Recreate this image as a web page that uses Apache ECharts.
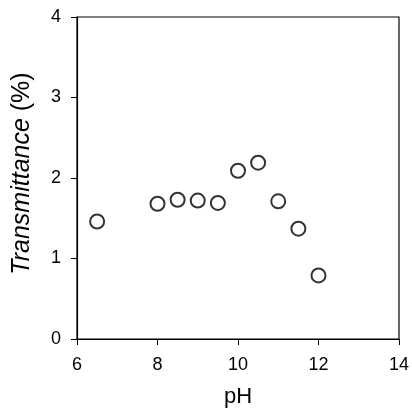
<!DOCTYPE html>
<html><head><meta charset="utf-8">
<script src="https://cdn.jsdelivr.net/npm/echarts@6/dist/echarts.min.js"></script>
<style>html,body{margin:0;padding:0;background:#fff}#c{width:412px;height:413px}</style>
</head><body><div id="c"></div>
<script>
const phValues = [6.5, 8, 8.5, 9, 9.5, 10, 10.5, 11, 11.5, 12];
const transmittance = [1.46, 1.68, 1.73, 1.72, 1.69, 2.09, 2.19, 1.71, 1.37, 0.79];
const xTicks = [6, 8, 10, 12, 14];
const yTicks = [0, 1, 2, 3, 4];

const chart = echarts.init(document.getElementById('c'), null, {renderer: 'canvas'});
const font = '"Liberation Sans", Arial, sans-serif';
chart.setOption({
  animation: false,
  backgroundColor: '#fff',
  grid: {left: 77, right: 12, top: 17, bottom: 72, show: true, borderColor: '#000', borderWidth: 1.2, backgroundColor: 'transparent'},
  xAxis: {
    type: 'value', min: xTicks[0], max: xTicks[xTicks.length-1], interval: 2,
    name: 'pH', nameLocation: 'middle', nameGap: 47,
    nameTextStyle: {fontFamily: font, fontSize: 22, color: '#000'},
    axisLine: {lineStyle: {color: '#000', width: 1.2}},
    axisTick: {inside: false, length: 6, lineStyle: {color: '#000'}},
    axisLabel: {fontFamily: font, fontSize: 18, color: '#000', margin: 17},
    splitLine: {show: false}
  },
  yAxis: {
    type: 'value', min: yTicks[0], max: yTicks[yTicks.length-1], interval: 1,
    name: '{i|Transmittance}{n| (%)}', nameLocation: 'middle', nameGap: 42, nameRotate: 90,
    nameTextStyle: {padding: [0, 0, 0, 9], rich: {i: {fontFamily: font, fontSize: 25, fontStyle: 'italic', color: '#000'}, n: {fontFamily: font, fontSize: 25, color: '#000'}}},
    axisLine: {lineStyle: {color: '#000', width: 1.2}},
    axisTick: {inside: false, length: 6, lineStyle: {color: '#000'}},
    axisLabel: {fontFamily: font, fontSize: 18, color: '#000', margin: 16},
    splitLine: {show: false}
  },
  series: [{
    type: 'scatter',
    data: phValues.map((x, i) => [x, transmittance[i]]),
    symbol: 'circle', symbolSize: 14,
    itemStyle: {color: '#fff', borderColor: '#000', borderWidth: 2}
  }]
});
</script></body></html>
